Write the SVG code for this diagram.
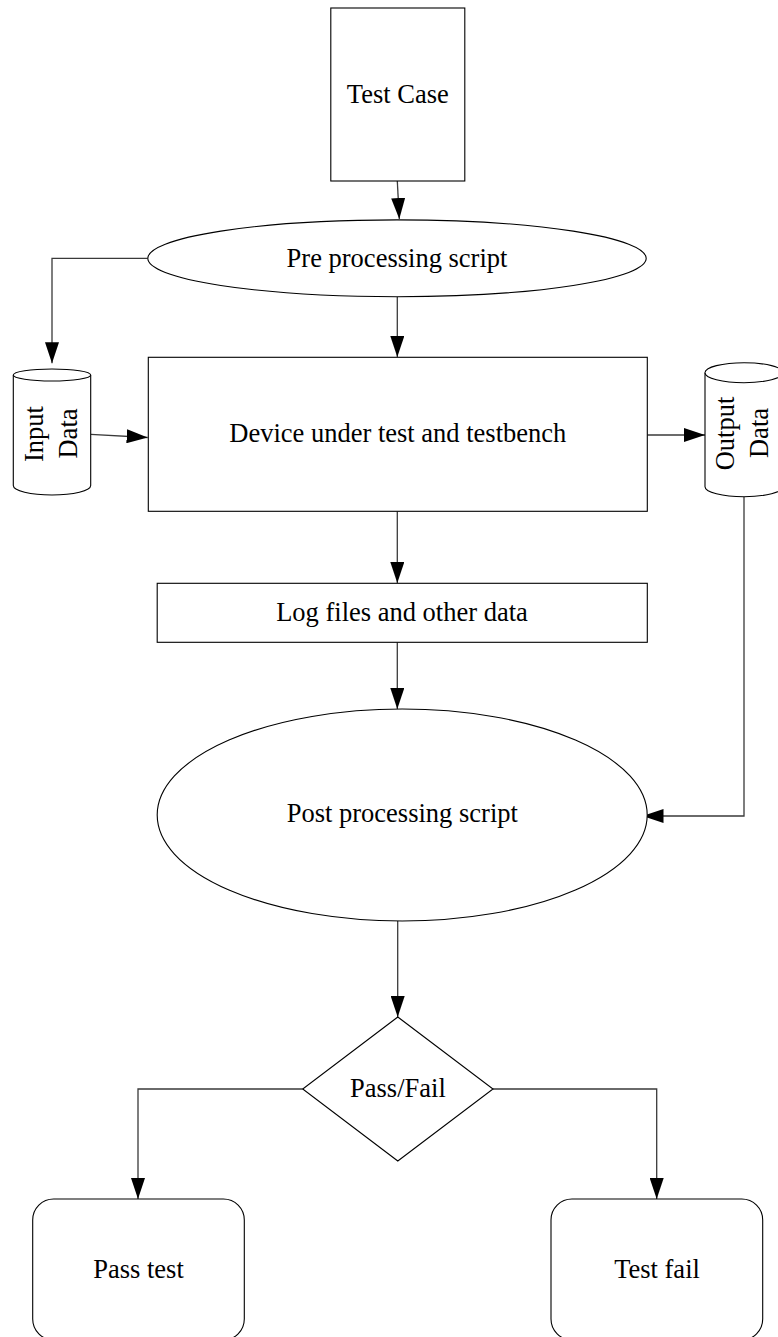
<svg xmlns="http://www.w3.org/2000/svg" width="778" height="1337" viewBox="0 0 778 1337">
<style>
.s{fill:#fff;stroke:#000;stroke-width:1.1}
.c{fill:none;stroke:#3a3a3a;stroke-width:1.3}
.t{font-family:"Liberation Serif","Times New Roman",serif;font-size:26.5px;fill:#000;text-anchor:middle}
</style>
<defs>
<marker id="ah" markerUnits="userSpaceOnUse" markerWidth="22" markerHeight="14" refX="21" refY="7" orient="auto">
<path d="M0,0 L21,7 L0,14 Z" fill="#000"/>
</marker>
</defs>
<rect width="778" height="1337" fill="#fff"/>
<g id="connectors">
<path class="c" d="M397.3,181 L399.3,219" marker-end="url(#ah)"/>
<path class="c" d="M147.8,258.3 L52,258.3 L52,363.3" marker-end="url(#ah)"/>
<path class="c" d="M397.3,296.7 L397.3,357" marker-end="url(#ah)"/>
<path class="c" d="M90.7,434.3 L147.7,437.5" marker-end="url(#ah)"/>
<path class="c" d="M647.3,435 L705,435" marker-end="url(#ah)"/>
<path class="c" d="M397.3,511.3 L397.3,583" marker-end="url(#ah)"/>
<path class="c" d="M397.3,642.3 L397.3,709" marker-end="url(#ah)"/>
<path class="c" d="M744,496.7 L744,816 L642.5,816" marker-end="url(#ah)"/>
<path class="c" d="M397.7,921 L397.7,1017" marker-end="url(#ah)"/>
<path class="c" d="M302.7,1089 L138,1089 L138,1199" marker-end="url(#ah)"/>
<path class="c" d="M493,1089 L656.7,1089 L656.7,1199" marker-end="url(#ah)"/>
</g>
<g id="test-case">
<rect class="s" x="330.8" y="8" width="134" height="173"/>
<text class="t" x="397.8" y="102.7">Test Case</text>
</g>
<g id="pre-processing">
<ellipse class="s" cx="397" cy="258.3" rx="249.2" ry="38.4"/>
<text class="t" x="397" y="266.7">Pre processing script</text>
</g>
<g id="input-data">
<path class="s" d="M13.3,375 A38.7,6 0 0 1 90.7,375 L90.7,485.5 A38.7,9.5 0 0 1 13.3,485.5 Z"/>
<path class="s" fill="none" d="M13.3,375 A38.7,6 0 0 0 90.7,375"/>
<text class="t" transform="translate(43.3,434) rotate(-90)">Input</text>
<text class="t" transform="translate(76.7,433.5) rotate(-90)">Data</text>
</g>
<g id="device">
<rect class="s" x="148.3" y="357.3" width="499" height="154"/>
<text class="t" x="397.8" y="441.7">Device under test and testbench</text>
</g>
<g id="output-data">
<path class="s" d="M705,372.7 A39,10 0 0 1 783,372.7 L783,486.7 A39,10 0 0 1 705,486.7 Z"/>
<path class="s" fill="none" d="M705,372.7 A39,10 0 0 0 783,372.7"/>
<text class="t" transform="translate(734.3,433.5) rotate(-90)">Output</text>
<text class="t" transform="translate(768,433) rotate(-90)">Data</text>
</g>
<g id="log-files">
<rect class="s" x="157.2" y="583.3" width="490.1" height="59"/>
<text class="t" x="402" y="620.7">Log files and other data</text>
</g>
<g id="post-processing">
<ellipse class="s" cx="402.2" cy="815" rx="245" ry="106"/>
<text class="t" x="402.3" y="822">Post processing script</text>
</g>
<g id="pass-fail">
<path class="s" d="M397.8,1017 L493,1089 L397.8,1161 L302.7,1089 Z"/>
<text class="t" x="397.9" y="1096.5">Pass/Fail</text>
</g>
<g id="pass-test">
<rect class="s" x="32.7" y="1199" width="211.6" height="141" rx="21" ry="21"/>
<text class="t" x="138.5" y="1277.7">Pass test</text>
</g>
<g id="test-fail">
<rect class="s" x="551" y="1199" width="211.7" height="141" rx="21" ry="21"/>
<text class="t" x="657" y="1277.7">Test fail</text>
</g>
</svg>
